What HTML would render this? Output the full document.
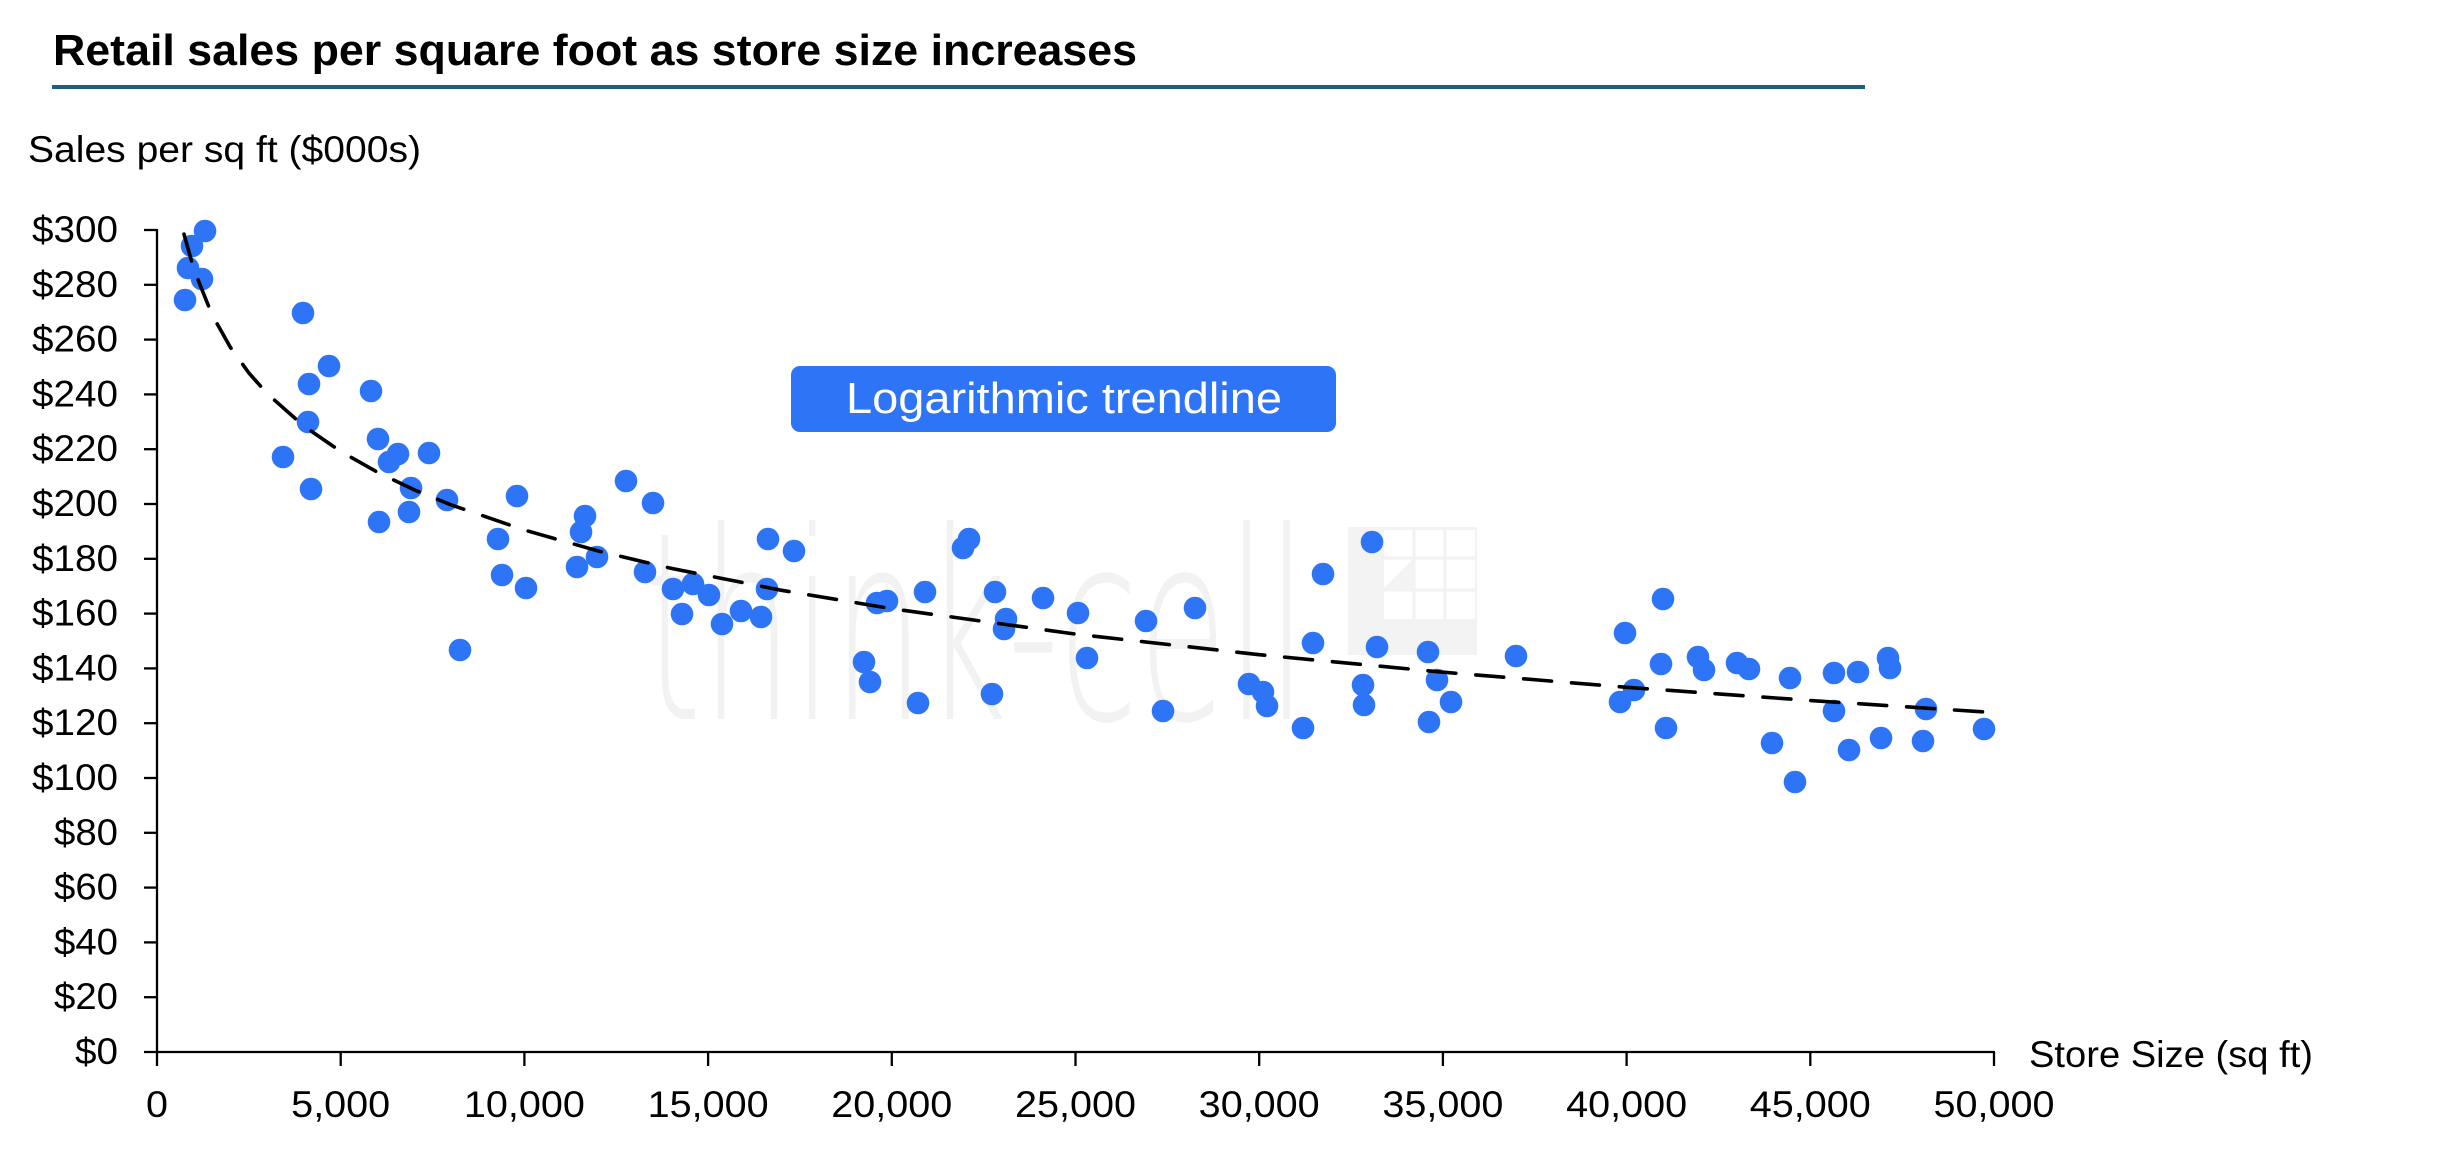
<!DOCTYPE html>
<html>
<head>
<meta charset="utf-8">
<style>
  html, body { margin:0; padding:0; background:#ffffff; }
  svg { display:block; }
  .tick { font-family:"Liberation Sans", sans-serif; font-size:37px; fill:#000; }
</style>
</head>
<body>
<svg width="2454" height="1160" viewBox="0 0 2454 1160" xmlns="http://www.w3.org/2000/svg">
  <rect x="0" y="0" width="2454" height="1160" fill="#ffffff"/>

  <!-- Title -->
  <text x="53" y="65" font-family="Liberation Sans, sans-serif" font-weight="bold" font-size="44" textLength="1084" lengthAdjust="spacingAndGlyphs" fill="#000">Retail sales per square foot as store size increases</text>
  <rect x="52" y="85" width="1813" height="4" fill="#1E5E7E"/>

  <!-- Axis titles -->
  <text x="28" y="162" font-family="Liberation Sans, sans-serif" font-size="37" textLength="393" lengthAdjust="spacingAndGlyphs" fill="#000">Sales per sq ft ($000s)</text>
  <text x="2029" y="1067" font-family="Liberation Sans, sans-serif" font-size="37" textLength="284" lengthAdjust="spacingAndGlyphs" fill="#000">Store Size (sq ft)</text>

  <!-- Watermark -->
  <text x="645" y="719" font-family="DejaVu Sans ExtraLight, DejaVu Sans, sans-serif" font-weight="200" font-size="262" textLength="662" lengthAdjust="spacingAndGlyphs" fill="#f2f2f2">think-cell</text>
  <g>
    <rect x="1348" y="527" width="129" height="128" fill="#f3f3f3"/>
    <rect x="1384" y="530" width="91" height="89" fill="#ffffff"/>
    <g stroke="#f2f2f2" stroke-width="3">
      <line x1="1414" y1="527" x2="1414" y2="622"/>
      <line x1="1445" y1="527" x2="1445" y2="622"/>
      <line x1="1382" y1="558" x2="1477" y2="558"/>
      <line x1="1382" y1="590" x2="1477" y2="590"/>
      <line x1="1382" y1="622" x2="1477" y2="622"/>
    </g>
    <polygon points="1382,590 1414,558 1414,590" fill="#f3f3f3"/>
  </g>

  <!-- Callout box -->
  <rect x="791" y="366" width="545" height="66" rx="9" ry="9" fill="#2E74F6"/>
  <text x="846" y="413" font-family="Liberation Sans, sans-serif" font-size="44" textLength="436" lengthAdjust="spacingAndGlyphs" fill="#ffffff">Logarithmic trendline</text>

  <!-- Axes -->
  <g stroke="#000" stroke-width="2.3" fill="none">
    <line x1="157" y1="229" x2="157" y2="1053"/>
    <line x1="144" y1="1052" x2="1995" y2="1052"/>
    <line x1="144" y1="230" x2="157" y2="230"/>
    <line x1="144" y1="284.8" x2="157" y2="284.8"/>
    <line x1="144" y1="339.6" x2="157" y2="339.6"/>
    <line x1="144" y1="394.4" x2="157" y2="394.4"/>
    <line x1="144" y1="449.2" x2="157" y2="449.2"/>
    <line x1="144" y1="504" x2="157" y2="504"/>
    <line x1="144" y1="558.8" x2="157" y2="558.8"/>
    <line x1="144" y1="613.6" x2="157" y2="613.6"/>
    <line x1="144" y1="668.4" x2="157" y2="668.4"/>
    <line x1="144" y1="723.2" x2="157" y2="723.2"/>
    <line x1="144" y1="778" x2="157" y2="778"/>
    <line x1="144" y1="832.8" x2="157" y2="832.8"/>
    <line x1="144" y1="887.6" x2="157" y2="887.6"/>
    <line x1="144" y1="942.4" x2="157" y2="942.4"/>
    <line x1="144" y1="997.2" x2="157" y2="997.2"/>
    <line x1="157" y1="1052" x2="157" y2="1066"/>
    <line x1="340.7" y1="1052" x2="340.7" y2="1066"/>
    <line x1="524.4" y1="1052" x2="524.4" y2="1066"/>
    <line x1="708.1" y1="1052" x2="708.1" y2="1066"/>
    <line x1="891.8" y1="1052" x2="891.8" y2="1066"/>
    <line x1="1075.5" y1="1052" x2="1075.5" y2="1066"/>
    <line x1="1259.2" y1="1052" x2="1259.2" y2="1066"/>
    <line x1="1442.9" y1="1052" x2="1442.9" y2="1066"/>
    <line x1="1626.6" y1="1052" x2="1626.6" y2="1066"/>
    <line x1="1810.3" y1="1052" x2="1810.3" y2="1066"/>
    <line x1="1994" y1="1052" x2="1994" y2="1066"/>
  </g>

  <!-- Y tick labels -->
  <g class="tick" text-anchor="end">
    <text x="118" y="242" textLength="86" lengthAdjust="spacingAndGlyphs">$300</text>
    <text x="118" y="296.8" textLength="86" lengthAdjust="spacingAndGlyphs">$280</text>
    <text x="118" y="351.6" textLength="86" lengthAdjust="spacingAndGlyphs">$260</text>
    <text x="118" y="406.4" textLength="86" lengthAdjust="spacingAndGlyphs">$240</text>
    <text x="118" y="461.2" textLength="86" lengthAdjust="spacingAndGlyphs">$220</text>
    <text x="118" y="516" textLength="86" lengthAdjust="spacingAndGlyphs">$200</text>
    <text x="118" y="570.8" textLength="86" lengthAdjust="spacingAndGlyphs">$180</text>
    <text x="118" y="625.6" textLength="86" lengthAdjust="spacingAndGlyphs">$160</text>
    <text x="118" y="680.4" textLength="86" lengthAdjust="spacingAndGlyphs">$140</text>
    <text x="118" y="735.2" textLength="86" lengthAdjust="spacingAndGlyphs">$120</text>
    <text x="118" y="790" textLength="86" lengthAdjust="spacingAndGlyphs">$100</text>
    <text x="118" y="844.8" textLength="64" lengthAdjust="spacingAndGlyphs">$80</text>
    <text x="118" y="899.6" textLength="64" lengthAdjust="spacingAndGlyphs">$60</text>
    <text x="118" y="954.4" textLength="64" lengthAdjust="spacingAndGlyphs">$40</text>
    <text x="118" y="1009.2" textLength="64" lengthAdjust="spacingAndGlyphs">$20</text>
    <text x="118" y="1064" textLength="43" lengthAdjust="spacingAndGlyphs">$0</text>
  </g>

  <!-- X tick labels -->
  <g class="tick" text-anchor="middle">
    <text x="157" y="1117" textLength="22" lengthAdjust="spacingAndGlyphs">0</text>
    <text x="340.7" y="1117" textLength="99" lengthAdjust="spacingAndGlyphs">5,000</text>
    <text x="524.4" y="1117" textLength="121" lengthAdjust="spacingAndGlyphs">10,000</text>
    <text x="708.1" y="1117" textLength="121" lengthAdjust="spacingAndGlyphs">15,000</text>
    <text x="891.8" y="1117" textLength="121" lengthAdjust="spacingAndGlyphs">20,000</text>
    <text x="1075.5" y="1117" textLength="121" lengthAdjust="spacingAndGlyphs">25,000</text>
    <text x="1259.2" y="1117" textLength="121" lengthAdjust="spacingAndGlyphs">30,000</text>
    <text x="1442.9" y="1117" textLength="121" lengthAdjust="spacingAndGlyphs">35,000</text>
    <text x="1626.6" y="1117" textLength="121" lengthAdjust="spacingAndGlyphs">40,000</text>
    <text x="1810.3" y="1117" textLength="121" lengthAdjust="spacingAndGlyphs">45,000</text>
    <text x="1994" y="1117" textLength="121" lengthAdjust="spacingAndGlyphs">50,000</text>
  </g>

  <!-- Scatter points -->
  <g fill="#2E74F6">
    <circle cx="205" cy="231" r="11.3"/><circle cx="192" cy="246" r="11.3"/><circle cx="188" cy="268" r="11.3"/><circle cx="202" cy="279" r="11.3"/><circle cx="185" cy="300" r="11.3"/>
    <circle cx="303" cy="313" r="11.3"/><circle cx="329" cy="366" r="11.3"/><circle cx="309" cy="384" r="11.3"/><circle cx="371" cy="391" r="11.3"/><circle cx="308" cy="422" r="11.3"/>
    <circle cx="378" cy="439" r="11.3"/><circle cx="283" cy="457" r="11.3"/><circle cx="398" cy="454" r="11.3"/><circle cx="389" cy="462" r="11.3"/><circle cx="429" cy="453" r="11.3"/>
    <circle cx="311" cy="489" r="11.3"/><circle cx="411" cy="488" r="11.3"/><circle cx="447" cy="500" r="11.3"/><circle cx="379" cy="522" r="11.3"/><circle cx="409" cy="512" r="11.3"/>
    <circle cx="517" cy="496" r="11.3"/><circle cx="498" cy="539" r="11.3"/><circle cx="502" cy="575" r="11.3"/><circle cx="526" cy="588" r="11.3"/><circle cx="460" cy="650" r="11.3"/>
    <circle cx="585" cy="516" r="11.3"/><circle cx="581" cy="532" r="11.3"/><circle cx="597" cy="557" r="11.3"/><circle cx="577" cy="567" r="11.3"/><circle cx="626" cy="481" r="11.3"/>
    <circle cx="653" cy="503" r="11.3"/><circle cx="645" cy="572" r="11.3"/>
    <circle cx="673" cy="589" r="11.3"/><circle cx="768" cy="539" r="11.3"/><circle cx="794" cy="551" r="11.3"/><circle cx="693" cy="584" r="11.3"/><circle cx="709" cy="595" r="11.3"/>
    <circle cx="682" cy="614" r="11.3"/><circle cx="722" cy="624" r="11.3"/><circle cx="741" cy="611" r="11.3"/><circle cx="761" cy="617" r="11.3"/><circle cx="767" cy="589" r="11.3"/>
    <circle cx="864" cy="662" r="11.3"/><circle cx="870" cy="682" r="11.3"/><circle cx="877" cy="603" r="11.3"/><circle cx="887" cy="601" r="11.3"/><circle cx="925" cy="592" r="11.3"/>
    <circle cx="918" cy="703" r="11.3"/><circle cx="969" cy="539" r="11.3"/><circle cx="963" cy="548" r="11.3"/><circle cx="995" cy="592" r="11.3"/><circle cx="1006" cy="619" r="11.3"/>
    <circle cx="1004" cy="629" r="11.3"/><circle cx="992" cy="694" r="11.3"/><circle cx="1043" cy="598" r="11.3"/><circle cx="1078" cy="613" r="11.3"/><circle cx="1087" cy="658" r="11.3"/>
    <circle cx="1146" cy="621" r="11.3"/><circle cx="1163" cy="711" r="11.3"/><circle cx="1195" cy="608" r="11.3"/>
    <circle cx="1372" cy="542" r="11.3"/><circle cx="1323" cy="574" r="11.3"/><circle cx="1313" cy="643" r="11.3"/><circle cx="1377" cy="647" r="11.3"/><circle cx="1428" cy="652" r="11.3"/>
    <circle cx="1249" cy="684" r="11.3"/><circle cx="1263" cy="692" r="11.3"/><circle cx="1267" cy="706" r="11.3"/><circle cx="1303" cy="728" r="11.3"/><circle cx="1363" cy="685" r="11.3"/>
    <circle cx="1364" cy="705" r="11.3"/><circle cx="1437" cy="680" r="11.3"/><circle cx="1451" cy="702" r="11.3"/><circle cx="1429" cy="722" r="11.3"/><circle cx="1516" cy="656" r="11.3"/>
    <circle cx="1625" cy="633" r="11.3"/><circle cx="1663" cy="599" r="11.3"/><circle cx="1661" cy="664" r="11.3"/><circle cx="1634" cy="690" r="11.3"/><circle cx="1620" cy="702" r="11.3"/>
    <circle cx="1666" cy="728" r="11.3"/>
    <circle cx="1698" cy="657" r="11.3"/><circle cx="1704" cy="670" r="11.3"/><circle cx="1737" cy="663" r="11.3"/><circle cx="1749" cy="669" r="11.3"/><circle cx="1790" cy="678" r="11.3"/>
    <circle cx="1772" cy="743" r="11.3"/><circle cx="1795" cy="782" r="11.3"/><circle cx="1834" cy="673" r="11.3"/><circle cx="1858" cy="672" r="11.3"/><circle cx="1834" cy="711" r="11.3"/>
    <circle cx="1849" cy="750" r="11.3"/><circle cx="1888" cy="658" r="11.3"/><circle cx="1890" cy="668" r="11.3"/><circle cx="1881" cy="738" r="11.3"/><circle cx="1926" cy="709" r="11.3"/>
    <circle cx="1923" cy="741" r="11.3"/><circle cx="1984" cy="729" r="11.3"/>
  </g>

  <!-- Logarithmic trendline -->
  <polyline fill="none" stroke="#000" stroke-width="3.6" stroke-linecap="round" stroke-dasharray="28 20"
    points="184,234.1 193.7,268.9 212.1,314.9 230.5,347.5 248.9,373 267.2,393.6 304,426.2 340.7,451.4 377.4,472.2 414.2,489.8 450.9,504.8 524.4,530 597.9,550.9 671.4,568.4 781.6,590.3 891.8,608.7 1075.5,634.1 1259.2,654.7 1442.9,672.2 1626.6,687.3 1810.3,700.5 1985,712"/>
</svg>
</body>
</html>
